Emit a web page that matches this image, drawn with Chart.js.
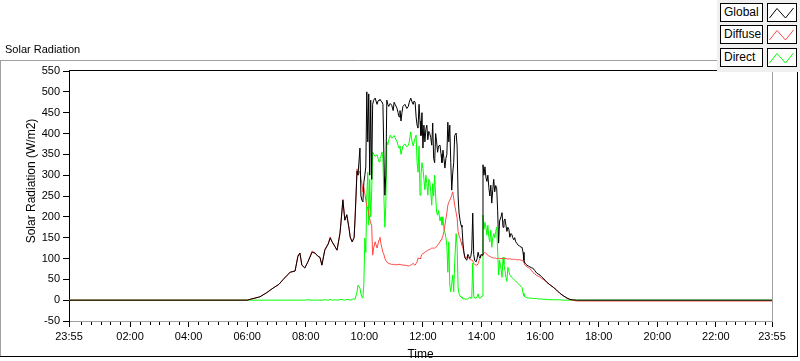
<!DOCTYPE html>
<html><head><meta charset="utf-8">
<script src="https://cdn.jsdelivr.net/npm/chart.js@4.4.1/dist/chart.umd.min.js"></script>
<style>
html,body{margin:0;padding:0;background:#fff;}
#wrap{position:relative;width:800px;height:361px;overflow:hidden;font-family:"Liberation Sans",Arial,sans-serif;}
#c{position:absolute;left:0;top:0;}
#legend{position:absolute;left:717px;top:0;width:83px;height:72px;background:#f0f0f0;}
.lab{position:absolute;left:3px;width:43px;height:19px;box-sizing:border-box;border:1px solid #000;background:#fff;font-size:12px;line-height:17px;padding-left:3px;color:#000;white-space:nowrap;}
.smp{position:absolute;left:50px;width:30px;height:19px;box-sizing:border-box;border:1px solid #000;background:#fff;}
.smp svg{position:absolute;left:0;top:0;}
</style></head>
<body>
<div id="wrap">
<canvas id="c" width="800" height="361"></canvas>
<div id="legend"></div>
</div>
<script>
// time of each sample, minutes after midnight (-5 = 23:55 of the previous day)
const times = [-5,360,366,386,400,413,425,434,442,448,458,464,468,472,478,484,493,499,505,509,513,519,526,530,534,540,544,550,552,556,560,564,569,571,575,579,581,585,587,591,593,595,597,599,601,603,605,607,609,611,613,615,617,619,622,626,628,630,632,634,636,638,640,642,644,646,648,650,653,656,659,661,663,667,669,671,673,675,677,679,683,687,690,692,695,697,700,702,704,706,708,710,712,714,716,718,720,722,724,726,728,730,732,734,736,738,740,742,744,746,748,750,752,755,757,759,761,763,765,767,769,771,773,775,777,779,781,783,785,788,790,792,794,796,798,800,802,804,806,808,810,812,814,816,818,820,822,824,826,829,831,833,835,837,839,841,843,845,847,849,851,853,855,857,859,861,863,865,867,869,871,873,875,877,880,882,884,886,888,890,892,894,896,898,900,902,904,906,908,910,912,915,918,921,923,925,927,929,931,933,936,939,942,945,949,953,957,960,963,966,970,974,980,987,994,1000,1007,1015,1021,1026,1035,1435];
const globalVals = [0,0,2,8,18,29,38,50,60,67,70,105,113,84,77,91,115,113,105,103,84,120,135,149,140,128,120,160,185,240,192,205,170,151,140,150,197,310,300,365,250,240,236,283,300,320,500,380,495,300,480,290,470,480,485,470,478,480,482,478,476,470,350,252,300,480,470,465,472,468,455,475,470,460,450,440,455,430,450,465,470,460,465,475,485,478,470,478,475,440,420,413,470,430,395,450,365,420,380,410,420,385,405,400,390,372,425,340,330,400,380,355,370,372,350,330,360,340,317,340,350,427,380,420,330,264,305,330,395,401,370,250,209,192,180,175,137,115,103,98,96,110,105,100,105,120,209,110,95,92,100,115,105,101,110,108,325,300,320,295,285,300,270,250,276,233,265,290,260,275,270,216,137,190,200,210,175,190,195,180,165,175,170,151,160,158,150,145,150,140,137,132,130,127,127,115,95,89,86,84,82,80,78,77,71,65,62,60,56,53,48,43,37,31,24,17,11,5,2,1,0,0];
const diffuseVals = [0,0,2,8,18,29,38,50,60,67,70,108,113,84,78,91,118,113,106,103,84,122,135,152,140,128,120,160,185,242,192,205,168,152,140,150,196,315,300,310,290,280,260,270,255,240,225,221,205,195,185,180,108,125,140,125,135,145,151,135,125,115,110,100,95,92,89,88,87,86,86,85,85,85,86,86,86,85,85,84,84,83,82,83,84,86,88,86,84,88,92,101,100,100,105,110,112,113,115,117,118,120,121,122,123,125,125,125,125,127,128,132,135,140,145,149,155,165,180,195,210,228,235,240,245,252,260,245,228,210,197,165,155,149,140,132,125,112,101,102,104,104,100,98,97,96,95,88,86,84,84,88,95,101,105,108,110,112,115,112,110,108,106,105,104,102,102,101,101,101,100,100,100,100,100,100,100,100,100,100,99,99,99,99,99,98,98,98,98,98,97,97,97,96,95,94,90,84,82,80,78,76,72,67,63,59,57,55,52,50,47,42,37,31,24,17,11,5,1,0,-2,-2];
const directVals = [0,0,0,0,0,0,0,0,0,0,0,0,0,0,0,1,0,0,0,0,0,1,0,2,0,1,0,1,2,1,0,2,1,0,2,3,2,20,36,29,15,7,5,40,149,115,250,307,180,290,200,260,356,350,345,349,340,332,340,345,356,340,250,175,230,380,373,385,396,389,392,395,390,380,372,365,370,350,360,370,375,368,372,380,404,385,370,380,389,396,330,307,370,252,300,330,317,290,265,300,280,252,290,284,260,228,280,250,300,250,211,204,215,190,200,180,200,170,163,150,132,67,140,36,20,40,60,20,90,160,130,30,15,10,8,5,3,3,3,2,3,3,5,8,4,5,89,10,5,5,8,15,5,5,6,10,204,170,187,175,156,180,150,140,168,127,150,160,150,165,175,120,60,96,75,55,103,85,72,55,45,79,70,60,58,55,52,50,48,46,43,40,36,33,30,17,10,8,7,6,5,5,5,4,4,4,3,3,3,2,2,2,1,1,1,1,0,0,0,0,0,0];
const seriesNames = ['Global','Diffuse','Direct'];
const seriesColors = ['#000000','#ff4848','#00ff00'];
const tickValues = [-5,120,240,360,480,600,720,840,960,1080,1200,1320,1435];
const tickLabels = ['23:55','02:00','04:00','06:00','08:00','10:00','12:00','14:00','16:00','18:00','20:00','22:00','23:55'];
const yTitle = 'Solar Radiation (W/m2)';
const xTitle = 'Time';
const chartTitle = 'Solar Radiation';

const FONT = '"Liberation Sans", Arial, sans-serif';

// legend (HTML)
const leg = document.getElementById('legend');
const rowTops = [3, 25, 48];
seriesNames.forEach((n, i) => {
  const l = document.createElement('div');
  l.className = 'lab'; l.style.top = rowTops[i] + 'px'; l.textContent = n;
  leg.appendChild(l);
  const s = document.createElement('div');
  s.className = 'smp'; s.style.top = rowTops[i] + 'px';
  s.innerHTML = '<svg width="28" height="17"><polyline points="1.5,14 9,4.5 17.5,14 25.5,4" fill="none" stroke="' + seriesColors[i] + '" stroke-width="1"/></svg>';
  leg.appendChild(s);
});

const series = [globalVals, diffuseVals, directVals];
const datasets = series.map((vals, i) => ({
  label: seriesNames[i],
  data: times.map((t, k) => ({x: t, y: vals[k]})),
  borderColor: seriesColors[i],
  borderWidth: 1,
  pointRadius: 0,
  tension: 0,
  fill: false
}));

const framePlugin = {
  id: 'frame',
  beforeDraw(chart) {
    const ctx = chart.ctx;
    ctx.save();
    ctx.fillStyle = '#fff';
    ctx.fillRect(0, 0, chart.width, chart.height);
    ctx.lineWidth = 1;
    ctx.strokeStyle = '#a0a0a0';
    ctx.beginPath();
    ctx.moveTo(0, 60.5); ctx.lineTo(717, 60.5);
    ctx.moveTo(0.5, 60.5); ctx.lineTo(0.5, 357);
    ctx.stroke();
    ctx.strokeStyle = '#000';
    ctx.beginPath();
    ctx.moveTo(0, 356.5); ctx.lineTo(798, 356.5);
    ctx.moveTo(797.5, 72); ctx.lineTo(797.5, 357);
    ctx.stroke();
    ctx.restore();
  },
  afterDraw(chart) {
    const ctx = chart.ctx, a = chart.chartArea;
    const xs = chart.scales.x;
    ctx.save();
    ctx.lineWidth = 1;
    ctx.strokeStyle = '#000';
    ctx.beginPath();
    ctx.moveTo(a.left, Math.round(a.top) - 0.5); ctx.lineTo(a.right + 1, Math.round(a.top) - 0.5);
    ctx.stroke();
    ctx.strokeStyle = '#a0a0a0';
    ctx.beginPath();
    ctx.moveTo(Math.round(a.right) + 0.5, a.top); ctx.lineTo(Math.round(a.right) + 0.5, a.bottom + 1);
    ctx.stroke();
    // minor ticks every 20 min
    ctx.strokeStyle = '#000';
    ctx.beginPath();
    for (let m = 0; m < 1435; m += 20) {
      if (m % 120 === 0) continue;
      const px = Math.round(xs.getPixelForValue(m)) + 0.5;
      ctx.moveTo(px, a.bottom + 1); ctx.lineTo(px, a.bottom + 4);
    }
    ctx.stroke();
    // y axis title
    ctx.fillStyle = '#000';
    ctx.font = '12px ' + FONT;
    ctx.textAlign = 'center';
    ctx.textBaseline = 'middle';
    ctx.translate(32, 181);
    ctx.rotate(-Math.PI / 2);
    ctx.fillText(yTitle, 0, 0);
    ctx.restore();
  }
};

new Chart(document.getElementById('c'), {
  type: 'line',
  data: {datasets},
  plugins: [framePlugin],
  options: {
    responsive: false,
    animation: false,
    devicePixelRatio: 1,
    events: [],
    layout: {padding: {left: 5, right: 28, top: 0, bottom: 0}},
    plugins: {
      legend: {display: false},
      tooltip: {enabled: false},
      title: {
        display: true, text: chartTitle, align: 'start', color: '#000',
        font: {family: FONT, size: 11, weight: 'normal'},
        padding: {top: 43.4, bottom: 14.4}
      }
    },
    scales: {
      x: {
        type: 'linear', min: -5, max: 1435,
        afterBuildTicks(s) { s.ticks = tickValues.map(v => ({value: v})); },
        afterFit(s) { s.height = 40; },
        ticks: {
          autoSkip: false, maxRotation: 0, color: '#000', padding: 3,
          font: {family: FONT, size: 11},
          callback: (v, i) => tickLabels[i]
        },
        grid: {drawOnChartArea: false, tickLength: 6, tickColor: '#000'},
        border: {color: '#a0a0a0'},
        title: {display: true, text: xTitle, color: '#000', font: {family: FONT, size: 12}, padding: {top: 0, bottom: -1}}
      },
      y: {
        min: -50, max: 550,
        afterFit(s) { s.width = 64; },
        ticks: {stepSize: 50, color: '#000', padding: 3, font: {family: FONT, size: 11}},
        grid: {drawOnChartArea: false, tickLength: 6, tickColor: '#000'},
        border: {color: '#000'}
      }
    }
  }
});
</script>
</body></html>
